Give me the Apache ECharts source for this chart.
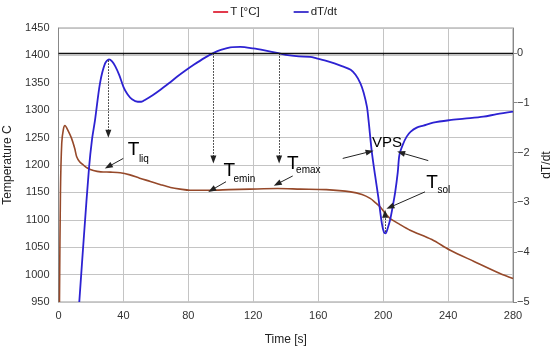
<!DOCTYPE html>
<html>
<head>
<meta charset="utf-8">
<script src="https://cdn.jsdelivr.net/npm/echarts@6/dist/echarts.min.js"></script>
<style>html,body{margin:0;padding:0;background:#fff}#c{width:550px;height:347px}</style>
</head>
<body>
<div id="c"></div>
<script>
// Time [s], Temperature [°C]
const tempData = [
  [0.6,950],[1.2,1150],[2,1240],[3,1265],[4,1272],[5.5,1265],[8,1249],[10,1230],[11.2,1215],
  [13,1206],[15.3,1200],[18,1194],[21.5,1190],[26,1187.5],[32,1187],[38,1186],[44,1182],
  [50,1176],[56.6,1170],[63,1164],[69,1159],[75,1156],[81,1154],[93.5,1154],[105,1155],
  [118,1156],[135,1157],[149,1156],[165,1155],[180,1151],[187,1146],[192,1139],[195,1132],
  [198,1124],[201,1113],[204,1103],[210,1092],[216.6,1081],[230,1064],[241,1045],[256,1024],
  [272,1002],[280,993]
];
// Time [s], dT/dt
const rateData = [
  [12.8,-5],[15.7,-3.66],[18.8,-2.31],[20.6,-1.75],[22.5,-1.35],[25.6,-0.6],[28.7,-0.21],
  [31.1,-0.13],[33,-0.17],[35,-0.27],[37.5,-0.45],[40,-0.68],[42.5,-0.83],[45.3,-0.93],
  [48.8,-0.98],[51,-0.98],[53.5,-0.94],[58,-0.85],[62.8,-0.74],[68,-0.61],[73,-0.48],
  [78,-0.36],[83.3,-0.24],[90,-0.1],[95.6,0],[100,0.06],[105.8,0.11],[112,0.12],[120,0.09],
  [127,0.05],[134.6,0],[140,-0.04],[148,-0.07],[155,-0.08],[159,-0.11],[165,-0.16],
  [170,-0.21],[175,-0.27],[180,-0.34],[183,-0.44],[186,-0.61],[188,-0.8],[190,-1.08],
  [191,-1.35],[193,-1.98],[195,-2.45],[197,-2.89],[199.2,-3.42],[200.5,-3.6],[201.5,-3.62],
  [203,-3.5],[204.3,-3.35],[205.8,-3.1],[207.4,-2.8],[209,-2.4],[210,-2.05],[212,-1.85],
  [214.5,-1.68],[217,-1.58],[220.7,-1.5],[224.8,-1.46],[230.8,-1.4],[241,-1.35],[250,-1.32],
  [261.7,-1.28],[270,-1.23],[280,-1.18]
];
const xTicks = {min:0, max:280, interval:40};
const tTicks = {min:950, max:1450, interval:50};
const rTicks = {min:-5, max:0.5, interval:1};

// annotation arrows, in [time, temperature] coordinates
const dottedArrows = [
  [[30.7,1391],[30.7,1257]],
  [[95.4,1404],[95.4,1210]],
  [[135.9,1404],[135.9,1210]],
  [[201.2,1078],[201.2,1111]]
];
const solidArrows = [
  [[39.9,1212],[30.7,1197]],
  [[103.2,1169.5],[94.4,1154.5]],
  [[144.3,1180],[134.8,1165.5]],
  [[225.8,1151],[204.3,1123]]
];
const curvedArrows = [
  [[175.1,1212],[191.7,1224.3],0.3],
  [[227.8,1208],[211,1222.4],-0.3]
];
// text labels: [time, temperature, text, size]
const labels = [
  [46.2,1227,'T',19],[52.6,1211,'liq',10],
  [105.2,1190,'T',19],[114.5,1173.5,'emin',10],
  [144.4,1203,'T',19],[153.9,1190,'emax',10],
  [230.2,1168,'T',19],[237.4,1153.5,'sol',10],
  [202.4,1241,'VPS',15]
];

const FONT = 'Liberation Sans, Arial, sans-serif';
const chart = echarts.init(document.getElementById('c'), null, {renderer:'canvas'});

const mlData = [];
dottedArrows.forEach(a => mlData.push([
  {coord:a[0], lineStyle:{type:[1.5,1.5], color:'#222', width:1}},
  {coord:a[1]}
]));
solidArrows.forEach(a => mlData.push([
  {coord:a[0], lineStyle:{type:'solid', color:'#222', width:1}},
  {coord:a[1]}
]));
curvedArrows.forEach(a => mlData.push([
  {coord:a[0], lineStyle:{type:'solid', color:'#222', width:1, curveness:a[2]}},
  {coord:a[1]}
]));

const mpData = labels.map(l => ({
  coord:[l[0], l[1]],
  symbolSize:0,
  label:{show:true, formatter:l[2], fontSize:l[3], color:'#000', fontFamily:FONT, position:'inside'}
}));

chart.setOption({
  animation:false,
  textStyle:{fontFamily:FONT},
  legend:{
    top:1, left:'center', itemGap:34, itemWidth:15, itemHeight:2, icon:'rect',
    textStyle:{fontSize:11.5, color:'#222', fontFamily:FONT, padding:[0,0,0,-3]},
    data:[
      {name:'T [°C]', itemStyle:{color:'#e23a4c'}},
      {name:'dT/dt', itemStyle:{color:'#4a40d0'}}
    ]
  },
  grid:{left:58.5, right:37, top:28, bottom:45, show:true, borderColor:'#999', borderWidth:1,
    outerBoundsMode:'none', containLabel:false},
  xAxis:{
    type:'value', min:xTicks.min, max:xTicks.max, interval:xTicks.interval,
    name:'Time [s]', nameLocation:'middle', nameGap:32,
    nameTextStyle:{fontSize:12, color:'#222', fontFamily:FONT},
    axisLine:{show:true, lineStyle:{color:'#888'}},
    axisTick:{show:true, length:3, lineStyle:{color:'#888'}},
    axisLabel:{fontSize:11, color:'#333', margin:8, fontFamily:FONT},
    splitLine:{show:true, lineStyle:{color:'#c4c4c4', width:1}}
  },
  yAxis:[
    {
      type:'value', min:tTicks.min, max:tTicks.max, interval:tTicks.interval,
      name:'Temperature C', nameLocation:'middle', nameGap:45, nameRotate:90,
      nameTextStyle:{fontSize:12, color:'#222', fontFamily:FONT},
      axisLine:{show:true, lineStyle:{color:'#888'}},
      axisTick:{show:false},
      axisLabel:{fontSize:11, color:'#333', margin:9, fontFamily:FONT, formatter:v => String(v)},
      splitLine:{show:true, lineStyle:{color:'#c4c4c4', width:1}}
    },
    {
      type:'value', min:rTicks.min, max:rTicks.max, interval:rTicks.interval, position:'right',
      name:'dT/dt', nameLocation:'middle', nameGap:26, nameRotate:90,
      nameTextStyle:{fontSize:12, color:'#222', fontFamily:FONT},
      axisLine:{show:true, lineStyle:{color:'#888'}},
      axisTick:{show:true, length:4, lineStyle:{color:'#888'}},
      axisLabel:{fontSize:11, color:'#333', margin:4, fontFamily:FONT, showMaxLabel:false,
        formatter:v => (v > 0 ? '' : String(v).replace('-', '\u2212'))},
      splitLine:{show:false}
    }
  ],
  series:[
    {
      name:'T [°C]', type:'line', yAxisIndex:0, data:tempData, smooth:0.3, showSymbol:false,
      lineStyle:{color:'#96492a', width:1.6}, itemStyle:{color:'#96492a'}, z:3,
      markLine:{silent:true, symbol:['none','triangle'], symbolSize:[6,8], label:{show:false},
        emphasis:{disabled:true}, animation:false, data:mlData},
      markPoint:{silent:true, animation:false, data:mpData}
    },
    {
      name:'dT/dt', type:'line', yAxisIndex:1, data:rateData, smooth:0.3, showSymbol:false,
      lineStyle:{color:'#2d22d2', width:1.8}, itemStyle:{color:'#2d22d2'}, z:4,
      markLine:{silent:true, symbol:['none','none'], label:{show:false}, animation:false,
        lineStyle:{color:'#111', width:1.4, type:'solid'}, data:[{yAxis:0}]}
    }
  ]
});
</script>
</body>
</html>
